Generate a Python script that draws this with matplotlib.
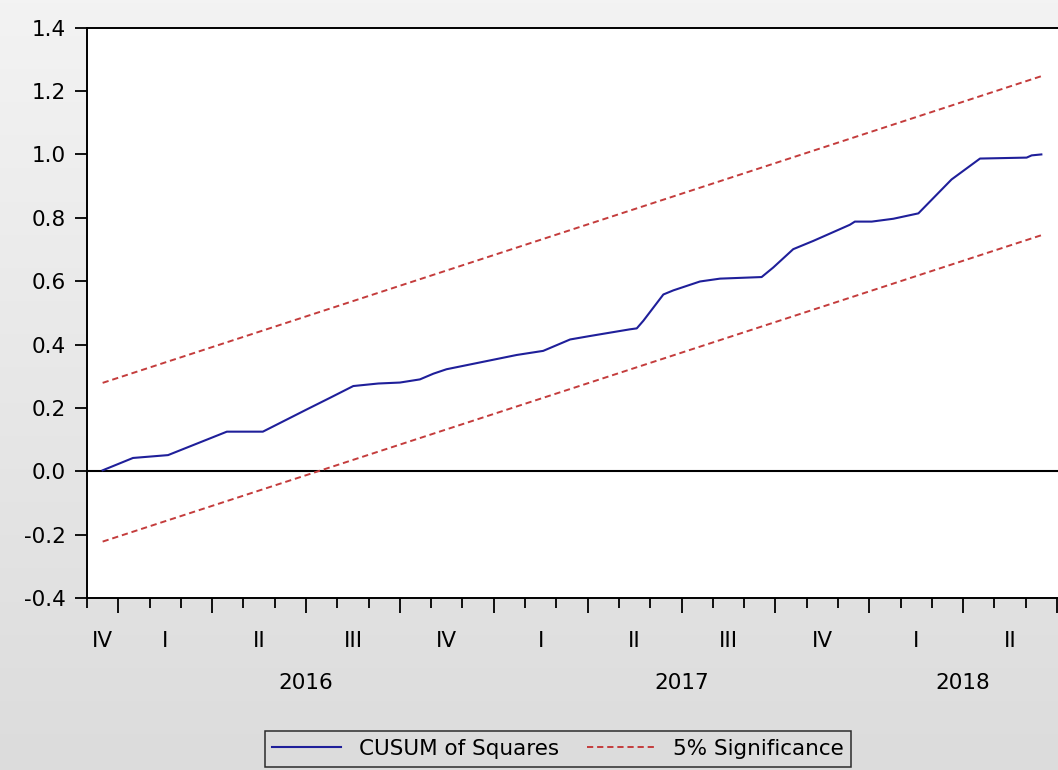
import matplotlib.pyplot as plt
import matplotlib.colors as mcolors
import numpy as np
from matplotlib.lines import Line2D

plt.rcParams['font.family'] = ['DejaVu Sans']
plt.rcParams['axes.unicode_minus'] = False

# monthly slots, Dec 2015 (index 0) ... Jun 2018 (index 30)
first_year = 2015
first_month = 12
n_months = 31

# CUSUM of squares (x = months since Dec 2015)
cusum_x = [0.0, 0.97, 2.09, 3.97, 5.12, 6.52, 7.27, 8.01, 8.81, 9.50, 10.14,
           10.57, 10.99, 13.23, 14.08, 14.94, 15.58, 16.85, 17.07, 17.28,
           17.92, 18.24, 19.09, 19.73, 21.06, 21.43, 22.07, 22.71, 23.88,
           24.04, 24.58, 25.27, 26.07, 27.13, 28.04, 29.53, 29.69, 30.0]
cusum_y = [0.003, 0.042, 0.051, 0.125, 0.125, 0.195, 0.232, 0.269, 0.277,
           0.280, 0.290, 0.308, 0.322, 0.367, 0.380, 0.416, 0.427, 0.448,
           0.451, 0.475, 0.558, 0.571, 0.599, 0.608, 0.613, 0.643, 0.701,
           0.727, 0.778, 0.788, 0.788, 0.797, 0.814, 0.921, 0.987, 0.990,
           0.997, 1.000]

# 5% significance bounds
bound_x = [0, 30]
upper = [0.279, 1.247]
lower = [-0.222, 0.745]

roman = ['I', 'II', 'III', 'IV']
fs = 15.5
blue = '#1f1f9a'
red = '#c43c3c'

W, H = 1058, 770
fig = plt.figure(figsize=(W / 100, H / 100), dpi=100)

# grey gradient background
bg = fig.add_axes([0, 0, 1, 1], zorder=-1)
grad = np.linspace(0, 1, 256).reshape(-1, 1)
cmap = mcolors.LinearSegmentedColormap.from_list('bg', ['#f3f3f3', '#dcdcdc'])
bg.imshow(grad, aspect='auto', cmap=cmap, extent=[0, 1, 0, 1])
bg.axis('off')

left, right, top, bottom = 87, 1058, 27.7, 598
ax = fig.add_axes([left / W, 1 - bottom / H, (right - left) / W, (bottom - top) / H])
slot = (1057 - 87) / n_months
ax.set_xlim(-0.5, -0.5 + (right - left) / slot)
ax.set_ylim(-0.4, 1.4)
ax.set_facecolor('white')

ax.axhline(0, color='black', lw=1.5, zorder=1)
ax.plot(bound_x, upper, color=red, lw=1.4, dashes=(3.2, 2.0), zorder=2)
ax.plot(bound_x, lower, color=red, lw=1.4, dashes=(3.2, 2.0), zorder=2)
ax.plot(cusum_x, cusum_y, color=blue, lw=1.5, zorder=3)

for s in ['left', 'top', 'bottom']:
    ax.spines[s].set_linewidth(1.4)
ax.spines['right'].set_visible(False)

yt = np.arange(-0.4, 1.41, 0.2)
ax.set_yticks(yt)
ax.set_yticklabels([f'{v:.1f}' for v in yt])
ax.tick_params(axis='y', direction='out', length=8.5, width=1.3, labelsize=fs, pad=7)

# calendar for each slot
months = [(first_month - 1 + i) % 12 + 1 for i in range(n_months)]
years = [first_year + (first_month - 1 + i) // 12 for i in range(n_months)]

bounds = [i - 0.5 for i in range(n_months + 1)]
major = [b for b in bounds if ((first_month - 1 + int(b + 0.5)) % 12) % 3 == 0]
minor = [b for b in bounds if b not in major]
ax.set_xticks(major)
ax.set_xticks(minor, minor=True)
ax.set_xticklabels([])
ax.tick_params(axis='x', which='major', direction='out', length=11, width=1.3)
ax.tick_params(axis='x', which='minor', direction='out', length=7, width=1.3)

# quarter labels
quarters = {}
for i, (m, y) in enumerate(zip(months, years)):
    quarters.setdefault((y, (m - 1) // 3), []).append(i)
for (y, q), idx in quarters.items():
    ax.text(np.mean(idx), -0.075, roman[q], transform=ax.get_xaxis_transform(),
            ha='center', va='center', fontsize=fs)

# year labels
year_groups = {}
for i, y in enumerate(years):
    year_groups.setdefault(y, []).append(i)
for y, idx in year_groups.items():
    if len(idx) < 3:
        continue
    ax.text(np.mean(idx), -0.149, str(y), transform=ax.get_xaxis_transform(),
            ha='center', va='center', fontsize=fs)

handles = [Line2D([], [], color=blue, lw=1.5),
           Line2D([], [], color=red, lw=1.4, dashes=(3.2, 2.0))]
leg = fig.legend(handles, ['CUSUM of Squares', '5% Significance'], loc='center',
                 bbox_to_anchor=(558 / W, 1 - 749 / H), ncol=2, fontsize=fs,
                 frameon=True, fancybox=False, edgecolor='black', facecolor='none',
                 handlelength=3.2, columnspacing=1.3, handletextpad=0.8,
                 borderpad=0.35, borderaxespad=0)
leg.get_frame().set_linewidth(1.1)

fig.savefig('out.png', dpi=100)
